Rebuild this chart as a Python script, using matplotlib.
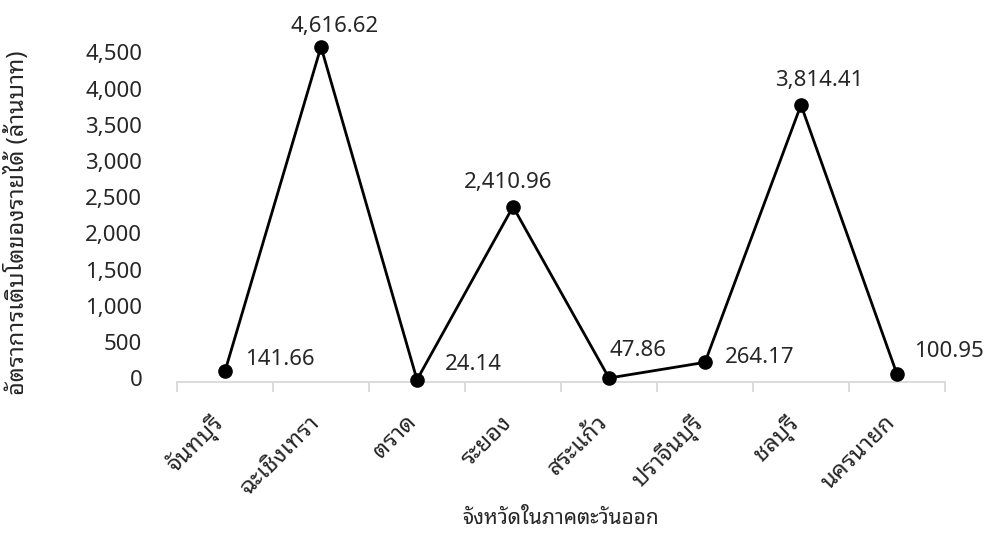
import matplotlib
matplotlib.use("Agg")
import matplotlib.pyplot as plt
from matplotlib.ticker import FixedLocator, FuncFormatter
from matplotlib.transforms import ScaledTranslation

plt.rcParams['font.family'] = ['Noto Sans Thai Looped', 'DejaVu Sans']
plt.rcParams['font.weight'] = 'light'

provinces = ["จันทบุรี", "ฉะเชิงเทรา", "ตราด", "ระยอง", "สระแก้ว",
             "ปราจีนบุรี", "ชลบุรี", "นครนายก"]
growth = [141.66, 4616.62, 24.14, 2410.96, 47.86, 264.17, 3814.41, 100.95]
y_ticks = [0, 500, 1000, 1500, 2000, 2500, 3000, 3500, 4000, 4500]
x_title = "จังหวัดในภาคตะวันออก"
y_title = "อัตราการเติบโตของรายได้ (ล้านบาท)"

# label placement relative to each point, in pixels (dx, dy, horizontal alignment)
label_offsets = [(20, 12, "left"), (14, 20, "center"), (28, 15, "left"),
                 (-5, 24, "center"), (1, 28, "left"), (20, 5, "left"),
                 (18, 24, "center"), (17, 23, "left")]

text_color = "#262626"
axis_color = "#d9d9d9"

W, H = 984, 543
fig = plt.figure(figsize=(W / 100, H / 100), dpi=100)
ax = fig.add_axes([177 / W, 1 - 381.5 / H, (945 - 177) / W, (381.5 - 19) / H])

x = list(range(len(provinces)))
ax.plot(x, growth, color="black", linewidth=2.0, marker="o",
        markersize=9.5, markerfacecolor="black", markeredgecolor="black",
        solid_joinstyle="miter", zorder=3, clip_on=False)

for xi, v, (dx, dy, ha) in zip(x, growth, label_offsets):
    ax.annotate(f"{v:,.2f}", (xi, v), xytext=(dx, dy), textcoords="offset pixels",
                ha=ha, va="center", fontsize=16, color=text_color)

ax.set_xlim(-0.5, len(provinces) - 0.5)
ax.set_ylim(0, 5000)

for s in ("top", "right", "left"):
    ax.spines[s].set_visible(False)
ax.spines["bottom"].set_color(axis_color)
ax.spines["bottom"].set_linewidth(1.3)

ax.set_yticks(y_ticks)
ax.yaxis.set_major_formatter(FuncFormatter(lambda v, p: f"{v:,.0f}"))
ax.tick_params(axis="y", length=0, pad=25, labelsize=16, labelcolor=text_color)
for lab in ax.get_yticklabels():
    lab.set_transform(lab.get_transform() + ScaledTranslation(0, 3 / 100, fig.dpi_scale_trans))

ax.set_xticks(x)
ax.set_xticklabels(provinces, rotation=45, ha="right", va="top")
ax.xaxis.set_minor_locator(FixedLocator([i - 0.5 for i in range(len(provinces) + 1)]))
ax.tick_params(axis="x", which="major", length=0, pad=21, labelsize=17, labelcolor=text_color)
ax.tick_params(axis="x", which="minor", length=7, width=1.3, color=axis_color, direction="out")
for lab in ax.get_xticklabels():
    lab.set_transform(lab.get_transform() + ScaledTranslation(4 / 100, 0, fig.dpi_scale_trans))

fig.text(561 / W, 1 - 518 / H, x_title, ha="center", va="center", fontsize=15, color=text_color)
fig.text(17 / W, 1 - 223 / H, y_title, ha="center", va="center", rotation=90,
         fontsize=17, color=text_color)

fig.savefig("out.png", dpi=100)
